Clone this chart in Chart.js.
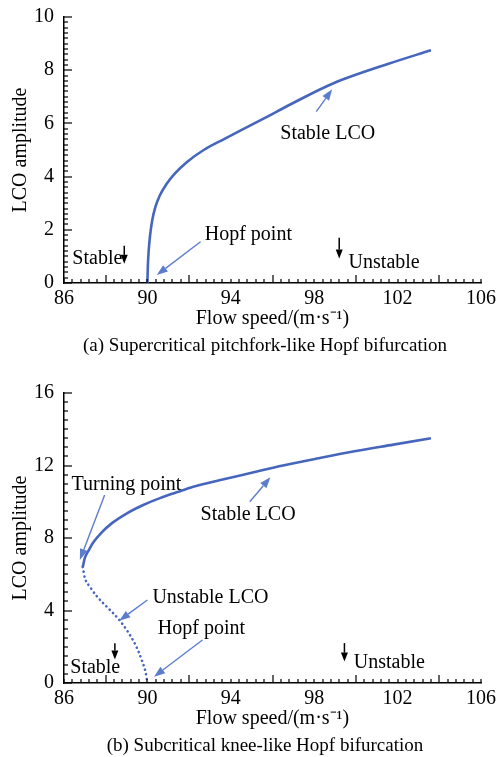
<!DOCTYPE html>
<html>
<head>
<meta charset="utf-8">
<script src="https://cdn.jsdelivr.net/npm/chart.js@4/dist/chart.umd.min.js"></script>
<style>
  html, body { margin: 0; padding: 0; background: #fff; }
  #wrap { position: relative; width: 497px; height: 757px; overflow: hidden; }
  canvas { position: absolute; left: 0; }
  #chartA { top: 0; }
  #chartB { top: 360px; }
  .caption {
    position: absolute; left: 0; width: 530px; text-align: center;
    font-family: "Liberation Serif", "Times New Roman", serif; font-size: 19px; color: #000;
    line-height: 22px; white-space: nowrap;
  }
</style>
</head>
<body>
<div id="wrap">
  <canvas id="chartA" width="497" height="360"></canvas>
  <canvas id="chartB" width="497" height="397"></canvas>
  <div class="caption" style="top:334px">(a) Supercritical pitchfork-like Hopf bifurcation</div>
  <div class="caption" style="top:734px">(b) Subcritical knee-like Hopf bifurcation</div>
</div>
<script>
// Flow-speed axis
const speedTickLabels = [86, 90, 94, 98, 102, 106];

// (a) supercritical branch: stable LCO
const speedA = [90, 90.02, 90.06, 90.13, 90.23, 90.38, 90.6, 90.9, 91.3, 91.9, 92.7, 93.7, 94.5, 95.5, 96.9, 98.9, 101.6, 103.6];
const ampA   = [0, 0.6, 1.2, 1.8, 2.35, 2.85, 3.3, 3.7, 4.1, 4.55, 5.0, 5.42, 5.75, 6.15, 6.73, 7.5, 8.25, 8.75];
const ampTickLabelsA = [0, 2, 4, 6, 8, 10];

// (b) subcritical branches: stable LCO (upper) and unstable LCO (lower)
const speedStableB = [86.9, 87.0, 87.2, 87.4, 87.8, 88.3, 89.0, 89.8, 90.6, 91.4, 92.2, 93.5, 95.0, 96.5, 98.2, 100.0, 101.8, 103.6];
const ampStableB   = [6.4, 6.9, 7.35, 7.75, 8.3, 8.82, 9.35, 9.82, 10.2, 10.52, 10.83, 11.2, 11.6, 12.0, 12.4, 12.8, 13.15, 13.5];
const speedUnstableB = [86.9, 87.0, 87.25, 87.6, 88.1, 88.6, 89.05, 89.45, 89.75, 89.92, 90.0];
const ampUnstableB   = [6.4, 5.8, 5.3, 4.75, 4.15, 3.55, 2.85, 2.05, 1.2, 0.55, 0];
const ampTickLabelsB = [0, 4, 8, 12, 16];

const SERIF = '"Liberation Serif", "Times New Roman", serif';
const CURVE = 'rgb(70, 102, 190)';
const POINTER = 'rgb(92, 124, 204)';

const toXY = (xs, ys) => xs.map((x, i) => ({ x, y: ys[i] }));

// Labels and pointer arrows, placed in data coordinates
const notesA = {
  texts: [
    { t: 'Stable', x: 86.4, y: 0.92 },
    { t: 'Hopf point', x: 92.75, y: 1.8 },
    { t: 'Unstable', x: 99.65, y: 0.75 },
    { t: 'Stable LCO', x: 98.65, y: 5.62, align: 'center' }
  ],
  arrows: [
    { from: [92.55, 1.55], to: [90.45, 0.3], kind: 'pointer' },
    { from: [98.1, 6.44], to: [98.86, 7.28], kind: 'pointer' },
    { from: [88.89, 1.4], to: [88.89, 0.72], kind: 'marker' },
    { from: [99.2, 1.7], to: [99.2, 0.92], kind: 'marker' }
  ]
};
const notesB = {
  texts: [
    { t: 'Turning point', x: 86.36, y: 10.92 },
    { t: 'Stable LCO', x: 94.83, y: 9.27, align: 'center' },
    { t: 'Unstable LCO', x: 90.24, y: 4.69 },
    { t: 'Hopf point', x: 90.5, y: 3.0 },
    { t: 'Stable', x: 86.3, y: 0.85 },
    { t: 'Unstable', x: 99.9, y: 1.1 }
  ],
  arrows: [
    { from: [87.95, 10.37], to: [86.76, 6.79], kind: 'pointer' },
    { from: [94.91, 10.0], to: [95.9, 11.35], kind: 'pointer' },
    { from: [90.0, 4.58], to: [88.65, 3.44], kind: 'pointer' },
    { from: [92.64, 2.37], to: [90.32, 0.35], kind: 'pointer' },
    { from: [88.44, 2.2], to: [88.44, 1.3], kind: 'marker' },
    { from: [99.45, 2.2], to: [99.45, 1.18], kind: 'marker' }
  ]
};

function drawArrow(ctx, x1, y1, x2, y2, color, width, headLen, headHalf) {
  const a = Math.atan2(y2 - y1, x2 - x1);
  const bx = x2 - headLen * Math.cos(a), by = y2 - headLen * Math.sin(a);
  ctx.strokeStyle = color; ctx.fillStyle = color; ctx.lineWidth = width;
  ctx.beginPath(); ctx.moveTo(x1, y1); ctx.lineTo(bx, by); ctx.stroke();
  ctx.beginPath();
  ctx.moveTo(x2, y2);
  ctx.lineTo(bx + headHalf * Math.sin(a), by - headHalf * Math.cos(a));
  ctx.lineTo(bx - headHalf * Math.sin(a), by + headHalf * Math.cos(a));
  ctx.closePath(); ctx.fill();
}

// Inward tick marks: long ones at the labelled steps, short ones at the minor steps
function drawInwardTicks(chart, steps) {
  const { ctx, chartArea } = chart;
  const xs = chart.scales.x, ys = chart.scales.y;
  const isMajor = (v, step) => Math.abs(v / step - Math.round(v / step)) < 1e-6;
  const nx = Math.round((xs.max - xs.min) / steps.xMinor);
  const ny = Math.round((ys.max - ys.min) / steps.yMinor);
  ctx.save();
  ctx.fillStyle = '#000';
  for (let i = 0; i <= nx; i++) {
    const v = xs.min + i * steps.xMinor;
    const len = isMajor(v, steps.xMajor) ? 8 : 4;
    const p = Math.round(xs.getPixelForValue(v));
    ctx.fillRect(p - 0.6, chartArea.bottom - len, 1.2, len);
  }
  for (let i = 0; i <= ny; i++) {
    const v = ys.min + i * steps.yMinor;
    const len = isMajor(v, steps.yMajor) ? 8 : 4;
    const p = Math.round(ys.getPixelForValue(v));
    ctx.fillRect(chartArea.left, p - 0.6, len, 1.2);
  }
  ctx.restore();
}

function makeNotesPlugin(notes, steps) {
  return {
    id: 'notes',
    afterDatasetsDraw(chart) {
      drawInwardTicks(chart, steps);
      const { ctx } = chart;
      const xs = chart.scales.x, ys = chart.scales.y;
      ctx.save();
      for (const a of notes.arrows) {
        const x1 = xs.getPixelForValue(a.from[0]), y1 = ys.getPixelForValue(a.from[1]);
        const x2 = xs.getPixelForValue(a.to[0]), y2 = ys.getPixelForValue(a.to[1]);
        if (a.kind === 'pointer') drawArrow(ctx, x1, y1, x2, y2, POINTER, 1.4, 11, 4);
        else drawArrow(ctx, x1, y1, x2, y2, '#000', 1.5, 9, 3.5);
      }
      ctx.fillStyle = '#000';
      ctx.font = '20px ' + SERIF;
      ctx.textBaseline = 'middle';
      for (const t of notes.texts) {
        ctx.textAlign = t.align || 'left';
        ctx.fillText(t.t, xs.getPixelForValue(t.x), ys.getPixelForValue(t.y));
      }
      ctx.restore();
    }
  };
}

function buildChart(id, datasets, yMax, yStep, yMinorStep, yLabels, notes, padTop, padBottom) {
  const font = { family: SERIF, size: 20 };
  const steps = { xMajor: 4, xMinor: 0.4, yMajor: yStep, yMinor: yMinorStep };
  return new Chart(document.getElementById(id), {
    type: 'scatter',
    data: { datasets },
    plugins: [makeNotesPlugin(notes, steps)],
    options: {
      responsive: false,
      animation: false,
      devicePixelRatio: 1,
      layout: { padding: { top: padTop, right: 16, bottom: padBottom, left: 0 } },
      plugins: { legend: { display: false }, tooltip: { enabled: false } },
      elements: { point: { radius: 0 } },
      scales: {
        x: {
          type: 'linear', position: 'bottom', min: 86, max: 106,
          ticks: {
            stepSize: 4, autoSkip: false, maxRotation: 0, color: '#000', font, padding: 4,
            callback: v => speedTickLabels.includes(v) ? String(v) : ''
          },
          grid: { display: false, drawTicks: false },
          border: { color: '#000', width: 1.5 },
          title: { display: true, text: 'Flow speed/(m·s⁻¹)', color: '#000', font, padding: { top: 0, bottom: 2 } },
          afterFit: s => { s.height = 50; s.paddingLeft = 0; s.paddingRight = 0; }
        },
        y: {
          type: 'linear', position: 'left', min: 0, max: yMax,
          ticks: {
            stepSize: yStep, autoSkip: false, color: '#000', font, padding: 10,
            callback: v => yLabels.includes(v) ? String(v) : ''
          },
          grid: { display: false, drawTicks: false },
          border: { color: '#000', width: 1.5 },
          title: { display: true, text: 'LCO amplitude', color: '#000', font, padding: { top: 9, bottom: 0 } },
          afterFit: s => { s.width = 64; s.paddingTop = 0; s.paddingBottom = 0; }
        }
      }
    }
  });
}

buildChart('chartA', [
  {
    label: 'Stable LCO', data: toXY(speedA, ampA), showLine: true,
    borderColor: CURVE, borderWidth: 2.6, cubicInterpolationMode: 'monotone', fill: false
  }
], 10, 2, 0.2, ampTickLabelsA, notesA, 17, 27);

buildChart('chartB', [
  {
    label: 'Stable LCO', data: toXY(speedStableB, ampStableB), showLine: true,
    borderColor: CURVE, borderWidth: 2.6, cubicInterpolationMode: 'monotone', fill: false
  },
  {
    label: 'Unstable LCO', data: toXY(speedUnstableB, ampUnstableB), showLine: true,
    borderColor: CURVE, borderWidth: 2.6, borderDash: [0.1, 4.6], borderCapStyle: 'round',
    cubicInterpolationMode: 'monotone', fill: false
  }
], 16, 4, 0.5, ampTickLabelsB, notesB, 33, 24);
</script>
</body>
</html>
